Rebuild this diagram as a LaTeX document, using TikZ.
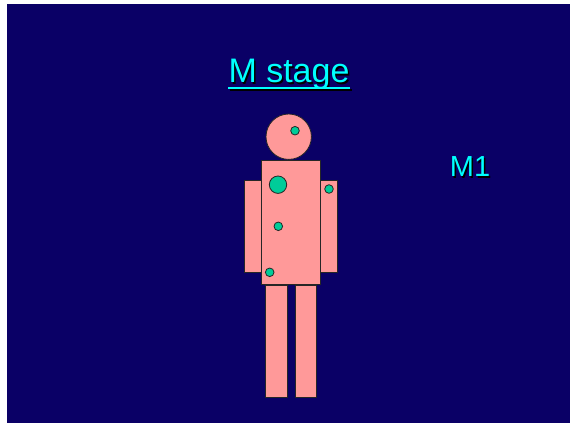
\documentclass[tikz,border=0pt]{standalone}
\usepackage{fontspec}
\setmainfont{Liberation Sans}
\definecolor{navy}{RGB}{10,0,102}
\definecolor{skin}{RGB}{255,153,153}
\definecolor{spot}{RGB}{0,204,153}
\definecolor{titlecyan}{RGB}{0,255,255}
\tikzset{
  body/.style={draw=black!85, line width=0.8pt, fill=skin},
  lesion/.style={draw=black!85, line width=0.8pt, fill=spot},
  label/.style={text=titlecyan, inner sep=0pt, anchor=base},
  shadow/.style={text=black, inner sep=0pt, anchor=base}
}
\begin{document}
\begin{tikzpicture}[x=1pt,y=-1pt]
  \useasboundingbox (0,0) rectangle (577,423);
  \fill[white] (0,0) rectangle (577,423);
  \fill[navy] (7,4) rectangle (570,423);

  % title with drop shadow and underline
  \node[shadow, font=\fontsize{34}{40}\selectfont] at (290.5,84.3) {M stage};
  \node[label, font=\fontsize{34}{40}\selectfont] (title) at (289,82.8) {M stage};
  \draw[black, line width=2pt] (229.5,89.8) -- (351.5,89.8);
  \draw[titlecyan, line width=2pt] (228,88.3) -- (350,88.3);

  % stage label
  \node[shadow, font=\fontsize{29}{34}\selectfont] at (471.5,178.2) {M1};
  \node[label, font=\fontsize{29}{34}\selectfont] (mone) at (470,176.7) {M1};

  % figure: legs, arms, torso, head
  \draw[body] (265.3,285) rectangle (287,397.7);
  \draw[body] (295,285) rectangle (316.7,397.7);
  \draw[body] (244.3,180.7) rectangle (261.7,272.3);
  \draw[body] (320.3,180.7) rectangle (337.3,272.3);
  \draw[body] (261.7,160) rectangle (320.3,284.3);
  \draw[body] (288.7,136.7) circle (22.7);

  % metastatic spots
  \draw[lesion] (295,130.7) circle (4.3);
  \draw[lesion] (278,184.7) circle (8.7);
  \draw[lesion] (329,189) circle (4.3);
  \draw[lesion] (278.3,226.3) circle (4.3);
  \draw[lesion] (269.7,272.3) circle (4.3);
\end{tikzpicture}
\end{document}
